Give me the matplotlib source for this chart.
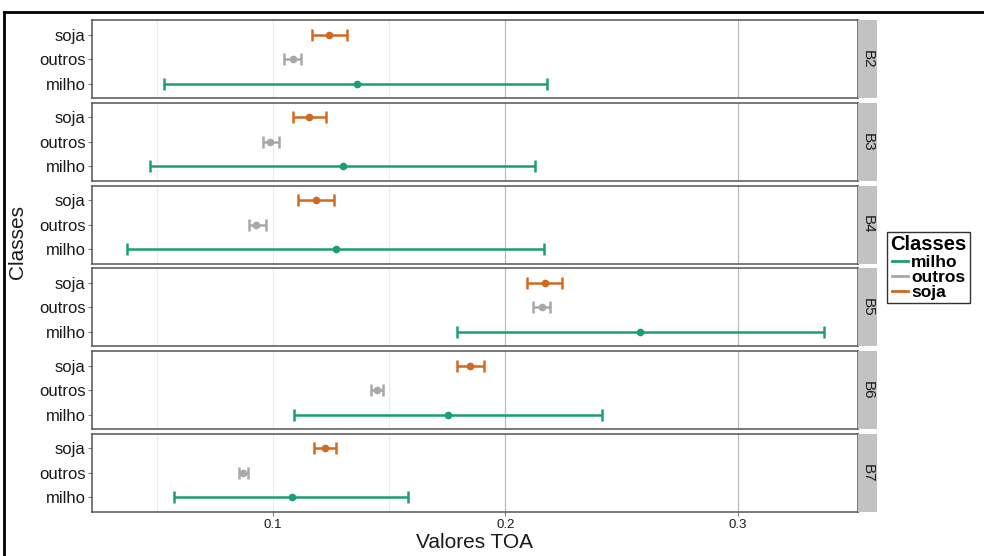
import matplotlib
matplotlib.use('Agg')
import matplotlib.pyplot as plt
from matplotlib.lines import Line2D

# ---- data ----
bands = ['B2', 'B3', 'B4', 'B5', 'B6', 'B7']
classes = ['milho', 'outros', 'soja']
milho_mean = [0.136, 0.130, 0.127, 0.258, 0.1755, 0.108]
milho_lo = [0.053, 0.047, 0.0374, 0.179, 0.109, 0.0576]
milho_hi = [0.218, 0.2126, 0.2164, 0.337, 0.2415, 0.1583]
outros_mean = [0.1086, 0.0989, 0.0929, 0.2156, 0.1447, 0.0872]
outros_lo = [0.1047, 0.0956, 0.0895, 0.2120, 0.1423, 0.0852]
outros_hi = [0.112, 0.1025, 0.0969, 0.2191, 0.1474, 0.0894]
soja_mean = [0.124, 0.1157, 0.1185, 0.2169, 0.1849, 0.1222]
soja_lo = [0.1168, 0.1085, 0.1109, 0.2091, 0.1791, 0.1175]
soja_hi = [0.1318, 0.1228, 0.1263, 0.2244, 0.1909, 0.1271]
x_ticks = [0.1, 0.2, 0.3]
x_tick_labels = ['0.1', '0.2', '0.3']

series = {
    'milho': (milho_mean, milho_lo, milho_hi, '#1B9E77'),
    'outros': (outros_mean, outros_lo, outros_hi, '#A8A8A8'),
    'soja': (soja_mean, soja_lo, soja_hi, '#D2691E'),
}

plt.rcParams['font.family'] = ['Liberation Sans', 'DejaVu Sans']

W, H = 984, 556
fig = plt.figure(figsize=(W / 100, H / 100), dpi=100)

px_left, px_right = 92, 858
strip_right = 877
top0, gap = 20, 4.6
ph = (512 - top0 - 5 * gap) / 6

xmin, xmax = 0.0222, 0.3516

for i, band in enumerate(bands):
    ptop = top0 + i * (ph + gap)
    b = 1 - (ptop + ph) / H
    ax = fig.add_axes([px_left / W, b, (px_right - px_left) / W, ph / H])
    ax.set_xlim(xmin, xmax)
    ax.set_ylim(0.4, 3.6)
    # grid lines
    for gx in [0.05, 0.1, 0.15]:
        ax.axvline(gx, color='#EBEBEB', lw=0.8, zorder=0)
    for gx in [0.2, 0.3]:
        ax.axvline(gx, color='#BDBDBD', lw=0.9, zorder=0)
    for j, cl in enumerate(classes):
        m, lo, hi, c = series[cl]
        ax.errorbar([m[i]], [j + 1], xerr=[[m[i] - lo[i]], [hi[i] - m[i]]],
                    fmt='o', color=c, ms=4.5, capsize=4.3,
                    elinewidth=1.8, capthick=1.8, zorder=3)
    ax.set_yticks([1, 2, 3])
    ax.set_yticklabels(classes, fontsize=12, color='#1a1a1a')
    ax.tick_params(axis='y', length=3, width=0.8, color='#7f7f7f', pad=1.5)
    if i == len(bands) - 1:
        ax.set_xticks(x_ticks)
        ax.set_xticklabels(x_tick_labels, fontsize=9.5, color='#1a1a1a')
        ax.tick_params(axis='x', length=3, width=0.8, color='#7f7f7f', pad=2)
    else:
        ax.set_xticks([])
    for sp in ax.spines.values():
        sp.set_color('#555555')
        sp.set_linewidth(1.1)
    # strip
    sax = fig.add_axes([px_right / W, b, (strip_right - px_right) / W, ph / H])
    sax.set_facecolor('#C2C2C2')
    sax.set_xticks([])
    sax.set_yticks([])
    for sp in sax.spines.values():
        sp.set_visible(False)
    sax.text(0.5, 0.5, band, rotation=270, ha='center', va='center',
             fontsize=11, color='#1a1a1a', transform=sax.transAxes)

# axis titles
fig.text(475 / W, 1 - 543 / H, 'Valores TOA', ha='center', va='center',
         fontsize=15, color='#1a1a1a')
fig.text(18 / W, 1 - 242 / H, 'Classes', ha='center', va='center',
         rotation=90, fontsize=15, color='#1a1a1a')

# legend
handles = [Line2D([], [], color=series[c][3], lw=2) for c in classes]
leg = fig.legend(handles, classes, title='Classes', loc='upper left',
                 bbox_to_anchor=(887 / W, 1 - 232 / H), frameon=True,
                 fancybox=False, edgecolor='black',
                 prop={'weight': 'bold', 'size': 12.5},
                 title_fontproperties={'weight': 'bold', 'size': 14.5},
                 handlelength=0.9, handletextpad=0.2, labelspacing=0.0,
                 borderpad=0.2, borderaxespad=0)
leg.get_frame().set_linewidth(1.0)

# outer screenshot frame
fig.add_artist(Line2D([4 / W, 1], [1 - 12 / H, 1 - 12 / H], color='black',
                      lw=2, transform=fig.transFigure))
fig.add_artist(Line2D([4 / W, 4 / W], [0, 1 - 12 / H], color='black',
                      lw=2, transform=fig.transFigure))

fig.savefig('out.png', dpi=100)
